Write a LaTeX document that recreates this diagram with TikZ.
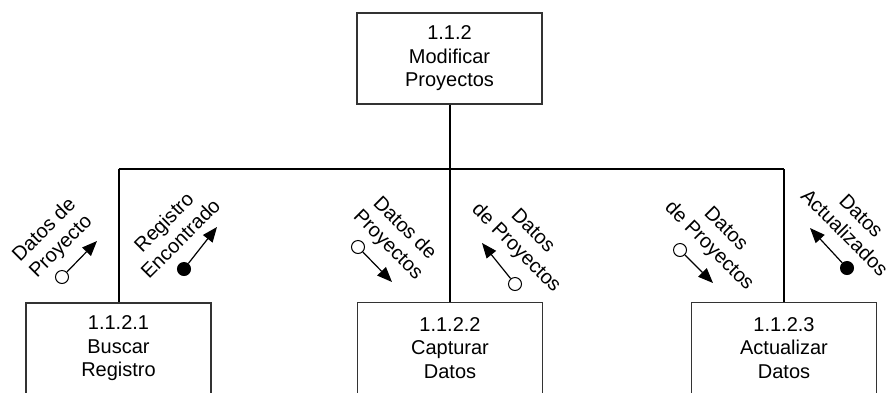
\documentclass[tikz,border=0pt]{standalone}
\usepackage{fontspec}
\setmainfont{Liberation Sans}
\usetikzlibrary{arrows.meta}
\begin{document}
\begin{tikzpicture}[x=1pt,y=1pt,
  procbox/.style={draw=black!80, line width=1.1pt, minimum width=185pt, minimum height=91pt,
    inner sep=0pt, align=center, font=\fontsize{20}{23.5}\selectfont},
  bus/.style={line width=2pt, draw=black},
  flowlbl/.style={inner sep=0pt, align=center, font=\fontsize{20}{23.5}\selectfont},
  opendot/.style={circle, draw=black, fill=white, line width=1pt, minimum size=13pt, inner sep=0pt},
  fulldot/.style={circle, draw=black, fill=black, line width=1pt, minimum size=13pt, inner sep=0pt},
  flowarrow/.style={line width=1.2pt, -{Triangle[length=15pt,width=12pt]}}]
\path[use as bounding box] (0,0) rectangle (888,-392);
\clip (0,0) rectangle (888,-392);

% boxes
\node[procbox] (top) at (449.5,-58.5) {1.1.2\\Modificar\\Proyectos};
\node[procbox] (b1) at (118.5,-348.5) {1.1.2.1\\Buscar\\Registro};
\node[procbox] (b2) at (450,-348) {1.1.2.2\\Capturar\\Datos};
\node[procbox] (b3) at (784,-348) {1.1.2.3\\Actualizar\\Datos};

% bus
\coordinate (jm) at (top.south |- 0,-169);
\coordinate (jl) at (b1.north |- 0,-169);
\coordinate (jr) at (b3.north |- 0,-169);
\draw[bus] (top.south) -- (jm);
\draw[bus] (jl) -- (jr);
\draw[bus] (jl) -- (b1.north);
\draw[bus] (b2.north |- jm) -- (b2.north);
\draw[bus] (jr) -- (b3.north);

% flow 1
\node[flowlbl, rotate=45] (l1) at (53,-239) {Datos de\\Proyecto};
\node[opendot] (c1) at (62,-277) {};
\coordinate (t1) at (97,-241);
\draw[flowarrow] (c1) -- (t1);

% flow 2
\node[flowlbl, rotate=45] (l2) at (172,-230) {Registro\\Encontrado};
\node[fulldot] (c2) at (184,-269) {};
\coordinate (t2) at (217,-227);
\draw[flowarrow] (c2) -- (t2);

% flow 3
\node[flowlbl, rotate=-45] (l3) at (396,-237) {Datos de\\Proyectos};
\node[opendot] (c3) at (358,-247) {};
\coordinate (t3) at (392,-282);
\draw[flowarrow] (c3) -- (t3);

% flow 4
\node[flowlbl, rotate=-45] (l4) at (524,-240) {Datos\\de Proyectos};
\node[opendot] (c4) at (515,-284) {};
\coordinate (t4) at (482,-243);
\draw[flowarrow] (c4) -- (t4);

% flow 5
\node[flowlbl, rotate=-45] (l5) at (717,-238) {Datos\\de Proyectos};
\node[opendot] (c5) at (680,-250) {};
\coordinate (t5) at (713,-283);
\draw[flowarrow] (c5) -- (t5);

% flow 6
\node[flowlbl, rotate=-45] (l6) at (853,-224) {Datos\\Actualizados};
\node[fulldot] (c6) at (847,-268) {};
\coordinate (t6) at (810,-228);
\draw[flowarrow] (c6) -- (t6);
\end{tikzpicture}
\end{document}
